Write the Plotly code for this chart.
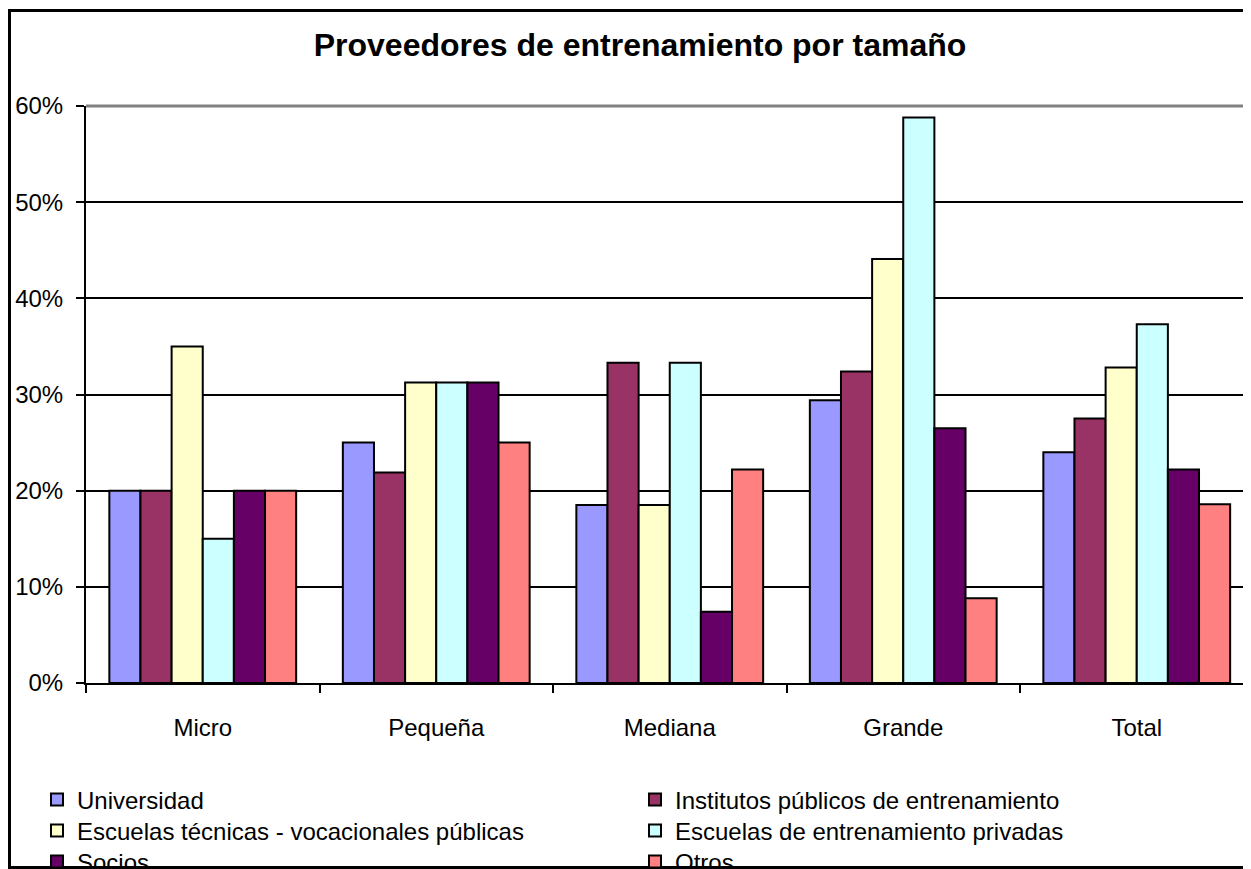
import plotly.graph_objects as go

categories = ["Micro", "Pequeña", "Mediana", "Grande", "Total"]
series_names = [
    "Universidad",
    "Institutos públicos de entrenamiento",
    "Escuelas técnicas - vocacionales públicas",
    "Escuelas de entrenamiento privadas",
    "Socios",
    "Otros",
]
universidad = [0.20, 0.25, 0.185, 0.294, 0.24]
institutos = [0.20, 0.219, 0.333, 0.324, 0.275]
tecnicas = [0.35, 0.3125, 0.185, 0.441, 0.328]
privadas = [0.15, 0.3125, 0.333, 0.588, 0.373]
socios = [0.20, 0.3125, 0.074, 0.265, 0.222]
otros = [0.20, 0.25, 0.222, 0.088, 0.186]
values = [universidad, institutos, tecnicas, privadas, socios, otros]
colors = ["#9999FF", "#993366", "#FFFFCC", "#CCFFFF", "#660066", "#FF8080"]
legend_ids = ["legend", "legend", "legend2", "legend2", "legend3", "legend3"]

FONT = "Liberation Sans, Arial, sans-serif"

fig = go.Figure()
for name, vals, col, lg in zip(series_names, values, colors, legend_ids):
    fig.add_trace(go.Bar(
        x=categories, y=vals, name=name, legend=lg,
        marker=dict(color=col, line=dict(color="black", width=2)),
    ))

# page body has an 8px default margin; work in screen pixels
OFF = 8
W, H = 1251 - OFF, 869 - OFF
L, R, T, B = 86 - OFF, 0, 106 - OFF, 869 - 683
pw, ph = W - L - R, H - T - B

def px_x(sx):
    return (sx - OFF - L) / pw

def px_y(sy):
    return (H - B - (sy - OFF)) / ph

leg_common = dict(orientation="h", font=dict(family=FONT, size=24, color="black"),
                  entrywidth=553, entrywidthmode="pixels", bgcolor="rgba(0,0,0,0)",
                  xanchor="left", yanchor="middle", itemwidth=30, tracegroupgap=0)

fig.update_layout(
    width=W, height=H,
    margin=dict(l=L, r=R, t=T, b=B, pad=0, autoexpand=False),
    paper_bgcolor="white", plot_bgcolor="white",
    barmode="group", bargap=0.2, bargroupgap=0,
    font=dict(family=FONT, size=24, color="black"),
    title=dict(text="<b>Proveedores de entrenamiento por tamaño</b>",
               x=(640 - OFF) / W, xanchor="center", y=1 - (45 - OFF) / H, yanchor="middle",
               font=dict(family=FONT, size=32, color="black")),
    xaxis=dict(type="category", range=[-0.5, -0.5 + pw / 233.5],
               showline=True, linecolor="black", linewidth=2,
               ticks="outside", tickson="boundaries", ticklen=8, tickwidth=2,
               tickcolor="black", showgrid=False, ticklabelstandoff=22,
               tickfont=dict(family=FONT, size=24)),
    yaxis=dict(range=[0, 0.6], tickformat=".0%", dtick=0.1, tick0=0,
               showline=True, linecolor="black", linewidth=2,
               ticks="outside", ticklen=8, tickwidth=2, tickcolor="black",
               showgrid=True, gridcolor="black", gridwidth=2,
               zeroline=False, ticklabelstandoff=8,
               tickfont=dict(family=FONT, size=24)),
    legend=dict(x=px_x(37), y=px_y(800), **leg_common),
    legend2=dict(x=px_x(37), y=px_y(831), **leg_common),
    legend3=dict(x=px_x(37), y=px_y(862), **leg_common),
    showlegend=True,
)

# gray top border of plot area at 60%
fig.add_shape(type="line", xref="paper", yref="paper", x0=0, x1=1, y0=1, y1=1,
              line=dict(color="#808080", width=3), layer="above")
# outer chart border
fig.add_shape(type="rect", xref="paper", yref="paper",
              x0=px_x(9.5), x1=px_x(1300), y0=px_y(867.5), y1=px_y(10.5),
              line=dict(color="black", width=3), fillcolor="rgba(0,0,0,0)", layer="above")

fig.write_html("out.html")
